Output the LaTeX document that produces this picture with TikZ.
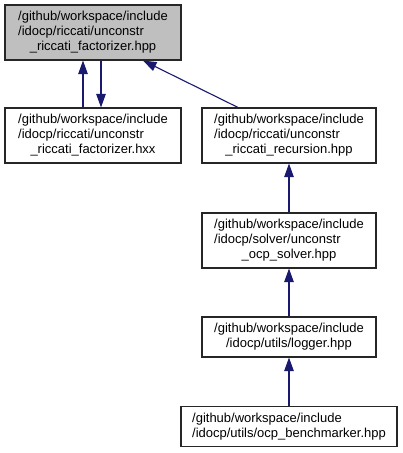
\documentclass[tikz,border=0pt]{standalone}
\usepackage{fontspec}
\setmainfont{Liberation Sans}
\usetikzlibrary{arrows.meta}
\definecolor{edgeblue}{HTML}{191970}
\newcommand{\lft}[1]{\multicolumn{1}{@{}l@{}}{#1}}
\tikzset{
  file/.style={draw=black!85, line width=1.1pt, inner sep=0pt, minimum width=174pt,
    font=\fontsize{13}{15}\selectfont},
  dep/.style={draw=edgeblue, line width=1.1pt, -{Triangle[length=13.5pt, width=9.5pt]}}
}
\begin{document}
\begin{tikzpicture}[x=1pt, y=-1pt]
    \useasboundingbox (0,0) rectangle (403,453);
    \node [file, fill=black!25, minimum width=176pt, minimum height=55pt] (factorizer) at (93,32.5)
      {\begin{tabular}{@{}c@{}}\lft{/github/workspace/include}\\ \lft{/idocp/riccati/unconstr}\\ \_riccati\_factorizer.hpp\end{tabular}};
    \node [file, minimum width=176pt, minimum height=55pt] (factorizerhxx) at (93,135.5)
      {\begin{tabular}{@{}c@{}}\lft{/github/workspace/include}\\ \lft{/idocp/riccati/unconstr}\\ \_riccati\_factorizer.hxx\end{tabular}};
    \node [file, minimum height=55pt] (recursion) at (289,135.5)
      {\begin{tabular}{@{}c@{}}\lft{/github/workspace/include}\\ \lft{/idocp/riccati/unconstr}\\ \_riccati\_recursion.hpp\end{tabular}};
    \node [file, minimum height=55pt] (solver) at (289,240.5)
      {\begin{tabular}{@{}c@{}}\lft{/github/workspace/include}\\ \lft{/idocp/solver/unconstr}\\ \_ocp\_solver.hpp\end{tabular}};
    \node [file, minimum height=40pt] (logger) at (289,337)
      {\begin{tabular}{@{}c@{}}\lft{/github/workspace/include}\\ /idocp/utils/logger.hpp\end{tabular}};
    \node [file, minimum width=216pt, minimum height=40pt] (benchmarker) at (289,426.5)
      {\begin{tabular}{@{}c@{}}\lft{/github/workspace/include}\\ /idocp/utils/ocp\_benchmarker.hpp\end{tabular}};
    \draw [dep] ([xshift=-10pt]factorizerhxx.north) -- ([xshift=-10pt]factorizer.south);
    \draw [dep] ([xshift=8pt]factorizer.south) -- ([xshift=8pt]factorizerhxx.north);
    \draw [dep] ([xshift=-51pt]recursion.north) -- ([xshift=50pt]factorizer.south);
    \draw [dep] (solver) -- (recursion);
    \draw [dep] (logger) -- (solver);
    \draw [dep] (benchmarker) -- (logger);
\end{tikzpicture}
\end{document}
